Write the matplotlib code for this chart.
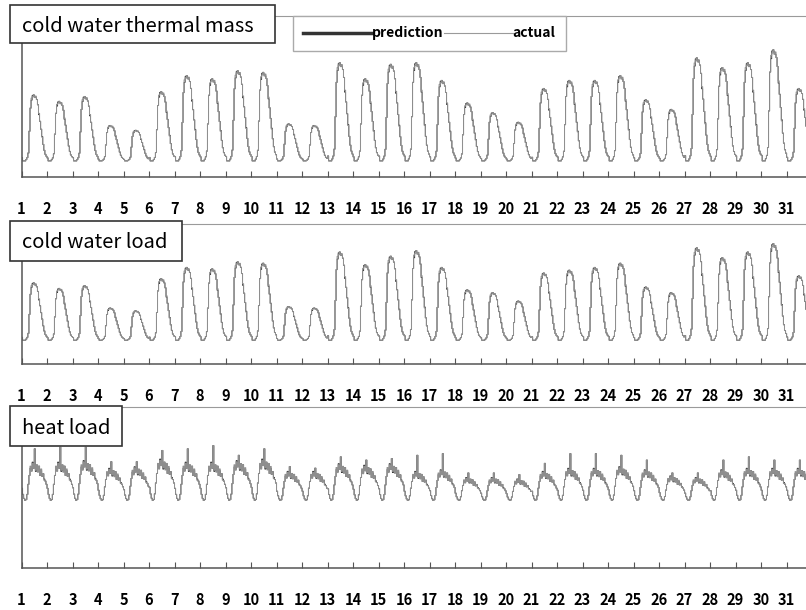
import numpy as np
import matplotlib.pyplot as plt
from matplotlib.lines import Line2D
from matplotlib.patches import Rectangle

plt.rcParams['font.family'] = ['Noto Sans CJK JP', 'DejaVu Sans']

# %% data (values in % of each panel's height)
day_labels = [str(d) for d in range(1, 32)]

thermal_peak = [51, 47, 50, 32, 29, 53, 63, 61, 66, 65, 33, 32, 71, 61, 70,
                71, 60, 46, 40, 34, 55, 60, 60, 63, 48, 42, 74, 68, 71, 79, 55]
thermal_base = 10

load_peak = [58, 54, 56, 40, 38, 61, 69, 68, 73, 72, 41, 40, 80, 71, 77,
             81, 69, 53, 51, 45, 65, 67, 69, 72, 55, 51, 83, 76, 80, 86, 63]
load_base = 17

heat_top = [67, 67, 68, 63, 64, 69, 67, 67, 68, 69, 61, 61, 66, 65, 66,
            61, 62, 57, 57, 56, 61, 63, 63, 64, 62, 58, 57, 62, 63, 63, 63]
heat_spike = [74, 75, 75, 66, 66, 73, 74, 76, 70, 74, 63, 62, 69, 67, 68,
              70, 71, 59, 59, 58, 65, 71, 71, 70, 67, 59, 59, 67, 69, 67, 67]
heat_base = 42

# hourly shape of one day (0 = night base, 1 = daily top)
cold_shape_actual = [0.05, 0.0, 0.0, 0.0, 0.02, 0.05, 0.12, 0.45, 0.8, 0.95, 0.97, 1.0,
                     0.96, 0.98, 0.93, 0.85, 0.72, 0.6, 0.48, 0.36, 0.25, 0.16, 0.1, 0.07]
cold_shape_pred = [0.05, 0.0, 0.0, 0.0, 0.02, 0.05, 0.12, 0.45, 0.8, 0.92, 0.99, 1.0,
                   0.98, 0.96, 0.93, 0.85, 0.7, 0.6, 0.48, 0.37, 0.25, 0.16, 0.1, 0.07]
heat_shape_actual = [0.3, 0.15, 0.05, 0.0, 0.02, 0.15, 0.4, 0.62, 0.85, 0.72, 0.92, 0.8,
                     1.0, 0.75, 0.88, 0.7, 0.85, 0.62, 0.78, 0.6, 0.66, 0.5, 0.48, 0.4]
heat_shape_pred = [0.3, 0.15, 0.05, 0.0, 0.02, 0.15, 0.4, 0.62, 0.8, 0.74, 0.95, 0.8,
                   1.0, 0.72, 0.88, 0.73, 0.85, 0.62, 0.74, 0.6, 0.66, 0.53, 0.48, 0.4]


def daily_series(top, base, shape, spike=None):
    shape = np.array(shape)
    days = []
    for i in range(len(top)):
        d = base + (top[i] - base) * shape
        if spike is not None:
            d[12] = spike[i]
        days.append(d)
    return np.concatenate(days)


hours = np.arange(24 * 31) / 24.0

panels = [
    ('cold water thermal mass',
     daily_series(thermal_peak, thermal_base, cold_shape_pred),
     daily_series(thermal_peak, thermal_base, cold_shape_actual)),
    ('cold water load',
     daily_series(load_peak, load_base, cold_shape_pred),
     daily_series(load_peak, load_base, cold_shape_actual)),
    ('heat load',
     daily_series(heat_top, heat_base, heat_shape_pred, heat_spike),
     daily_series(heat_top, heat_base, heat_shape_actual, heat_spike)),
]

# %% figure
W, H = 806, 610
fig = plt.figure(figsize=(W / 100, H / 100), dpi=100)

# (top, bottom) of each plot area in pixels
ax_rows = [(16, 177), (224, 364), (407, 568)]
title_boxes = [(10, 5, 275, 43), (10, 221, 182, 261), (10, 406, 122, 446)]

for (title, pred, actual), (top, bot), (bx0, by0, bx1, by1) in zip(panels, ax_rows, title_boxes):
    ax = fig.add_axes([21.5 / W, 1 - bot / H, 1 - 21.5 / W, (bot - top) / H])
    ax.plot(hours, pred, color='#222222', lw=0.6, drawstyle='steps-post')
    ax.plot(hours, actual, color='#909090', lw=0.75, drawstyle='steps-post')
    ax.set_xlim(0, 30.76)
    ax.set_ylim(0, 100)
    ax.set_yticks([])
    ax.set_xticks(np.arange(31))
    ax.set_xticklabels(day_labels, fontsize=10.5, fontweight='bold')
    ax.tick_params(axis='x', direction='in', length=4, width=0.8, color='#555555', pad=17)
    ax.spines['right'].set_visible(False)
    ax.spines['top'].set_color('#9a9a9a')
    ax.spines['left'].set_color('#555555')
    ax.spines['bottom'].set_color('#555555')
    ax.spines['left'].set_linewidth(1.1)
    ax.spines['bottom'].set_linewidth(1.1)

    fig.patches.append(Rectangle((bx0 / W, 1 - by1 / H), (bx1 - bx0) / W, (by1 - by0) / H,
                                 transform=fig.transFigure, facecolor='white',
                                 edgecolor='#333333', lw=1.2, zorder=5))
    fig.text(22 / W, 1 - ((by0 + by1) / 2 + 2) / H, title, fontsize=14.5,
             va='center', ha='left', zorder=6)

handles = [Line2D([], [], color='#333333', lw=2.5),
           Line2D([], [], color='#9a9a9a', lw=0.8)]
leg = fig.legend(handles, ['prediction', 'actual'], loc='upper left',
                 bbox_to_anchor=(293 / W, 1 - 16 / H), ncol=2, frameon=True,
                 fancybox=False, framealpha=1, edgecolor='#aaaaaa',
                 fontsize=10, handlelength=4.95, handletextpad=0.0,
                 columnspacing=0.0, borderpad=0.75, borderaxespad=0)
for t in leg.get_texts():
    t.set_fontweight('bold')

fig.savefig('out.png', dpi=100)
